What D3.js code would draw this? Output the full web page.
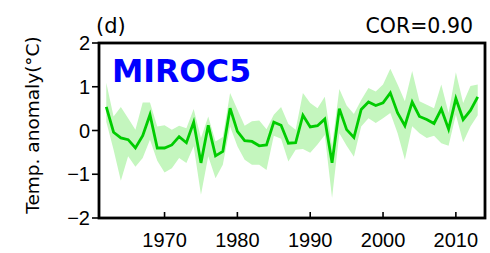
<!DOCTYPE html>
<html><head><meta charset="utf-8">
<script src="https://cdn.jsdelivr.net/npm/d3@7"></script>
<style>html,body{margin:0;padding:0;background:#fff;}svg{display:block;}</style>
</head><body>
<svg id="c" width="490" height="253"></svg>
<script>
const years = d3.range(1962, 2014);
const mean = [0.54,-0.04,-0.17,-0.21,-0.40,-0.12,0.36,-0.40,-0.40,-0.33,
  -0.14,-0.28,0.19,-0.74,0.12,-0.58,-0.48,0.51,-0.02,-0.23,
  -0.25,-0.35,-0.33,0.19,0.12,-0.29,-0.28,0.35,0.08,0.11,
  0.26,-0.74,0.50,0.02,-0.16,0.48,0.65,0.57,0.63,0.86,
  0.40,0.11,0.65,0.32,0.25,0.16,0.49,0.03,0.73,0.25,
  0.46,0.77];
const upper = [1.09,0.32,0.54,0.28,0.02,0.64,0.64,0.09,0.12,0.02,
  0.11,0.05,0.49,-0.17,0.32,-0.25,-0.15,0.86,0.48,0.11,
  0.21,0.23,0.03,0.36,0.54,0.15,0.02,0.86,0.63,0.51,
  0.77,-0.35,0.95,0.57,0.38,0.70,0.97,0.89,1.05,1.41,
  1.05,0.67,1.36,0.67,0.59,0.51,1.05,0.40,1.33,0.63,
  1.02,1.05];
const lower = [0.20,-0.44,-1.15,-0.59,-0.83,-0.63,-0.21,-0.69,-0.96,-0.86,
  -0.63,-0.74,-0.36,-1.47,-0.59,-1.09,-0.78,0.09,-0.36,-0.67,
  -0.78,-0.78,-0.90,-0.12,-0.19,-0.71,-0.44,-0.42,-0.51,-0.32,
  -0.10,-1.54,-0.06,-0.35,-0.60,0.09,0.28,0.17,0.28,0.40,
  -0.06,-0.67,0.10,-0.06,-0.17,-0.12,-0.29,-0.35,0.36,-0.27,
  0.09,0.35];
const yTicks = [-2,-1,0,1,2];
const xTicks = [1970,1980,1990,2000,2010];
const panelLabel = "(d)";
const corLabel = "COR=0.90";
const modelName = "MIROC5";
const yTitle = "Temp. anomaly(°C)";

const svg = d3.select("#c");
const x = d3.scaleLinear().domain([1961, 2014]).range([99, 485]);
const y = d3.scaleLinear().domain([-2, 2]).range([218, 43]);

const data = years.map((yr,i)=>({yr, m:mean[i], u:upper[i], l:lower[i]}));

svg.append("path").datum(data)
  .attr("d", d3.area().x(d=>x(d.yr)).y0(d=>y(d.l)).y1(d=>y(d.u)))
  .attr("fill", "#c4f6be");
svg.append("path").datum(data)
  .attr("d", d3.line().x(d=>x(d.yr)).y(d=>y(d.m)))
  .attr("fill","none").attr("stroke","#00cc00").attr("stroke-width",2.8)
  .attr("stroke-linejoin","miter");

// frame
svg.append("rect").attr("x",x(1961)).attr("y",y(2))
  .attr("width",x(2014)-x(1961)).attr("height",y(-2)-y(2))
  .attr("fill","none").attr("stroke","#000").attr("stroke-width",2.8);

// y ticks (outward)
svg.selectAll(".yt").data(yTicks).enter().append("line")
  .attr("x1",x(1961)-7).attr("x2",x(1961)).attr("y1",d=>y(d)).attr("y2",d=>y(d))
  .attr("stroke","#000").attr("stroke-width",1.6);
svg.selectAll(".yl").data(yTicks).enter().append("text")
  .attr("x",x(1961)-9).attr("y",d=>y(d)+7)
  .attr("text-anchor","end").attr("font-family","Liberation Sans, Arial, sans-serif")
  .attr("font-size",20).text(d=>d<0?"\u2212"+Math.abs(d):d);

// x ticks (inward)
svg.selectAll(".xt").data(xTicks).enter().append("line")
  .attr("x1",d=>x(d)).attr("x2",d=>x(d)).attr("y1",y(-2)).attr("y2",y(-2)-6)
  .attr("stroke","#000").attr("stroke-width",1.6);
svg.selectAll(".xl").data(xTicks).enter().append("text")
  .attr("x",d=>x(d)).attr("y",247)
  .attr("text-anchor","middle").attr("font-family","Liberation Sans, Arial, sans-serif")
  .attr("font-size",20).text(d=>d);

svg.append("text").attr("x",96).attr("y",33)
  .attr("font-family","DejaVu Sans, sans-serif").attr("font-size",21).text(panelLabel);
svg.append("text").attr("x",473).attr("y",33).attr("text-anchor","end")
  .attr("font-family","DejaVu Sans, sans-serif").attr("font-size",20.5).text(corLabel);
svg.append("text").attr("x",112).attr("y",82)
  .attr("font-family","DejaVu Sans, sans-serif").attr("font-weight","bold")
  .attr("font-size",31.5).attr("fill","#0000ff").text(modelName);
svg.append("text").attr("transform","translate(39,125) rotate(-90)")
  .attr("text-anchor","middle").attr("font-family","DejaVu Sans, sans-serif")
  .attr("font-size",18.5).text(yTitle);
</script>
</body></html>
